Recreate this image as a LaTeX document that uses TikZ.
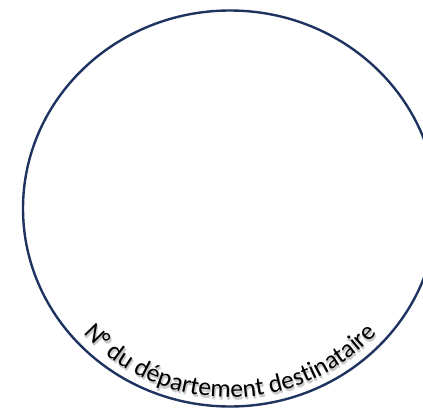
\documentclass[tikz,border=0pt]{standalone}
\usepackage{fontspec}
\setmainfont{Carlito}
\usetikzlibrary{decorations.text}
\definecolor{navy}{HTML}{1F3360}
\tikzset{
  ring/.style={draw=navy, line width=2.4pt},
  arclabel/.style={decorate, decoration={text along path, text align=center,
     text={|\fontsize{25.5}{25.5}\selectfont|N° du département destinataire}}}
}
\begin{document}
\begin{tikzpicture}[x=1pt,y=1pt]
\useasboundingbox (0,0) rectangle (423,408);
\clip (0,0) rectangle (423,408);
\coordinate (c) at (230,199.5);
\draw[ring] (c) ellipse [x radius=207, y radius=198];
% shadow copies
\foreach \dx/\dy/\col in {1.5/-3/black!12, 0.5/-2.5/black!18, 1/-2/black!22}{
  \path[arclabel, decoration={text color=\col}]
    ([shift={(\dx,\dy)}]c) ++(205:195 and 189) arc[start angle=205, end angle=335, x radius=195, y radius=189];
}
\path[arclabel, decoration={text color=black}]
  (c) ++(205:195 and 189) arc[start angle=205, end angle=335, x radius=195, y radius=189];
\end{tikzpicture}
\end{document}
